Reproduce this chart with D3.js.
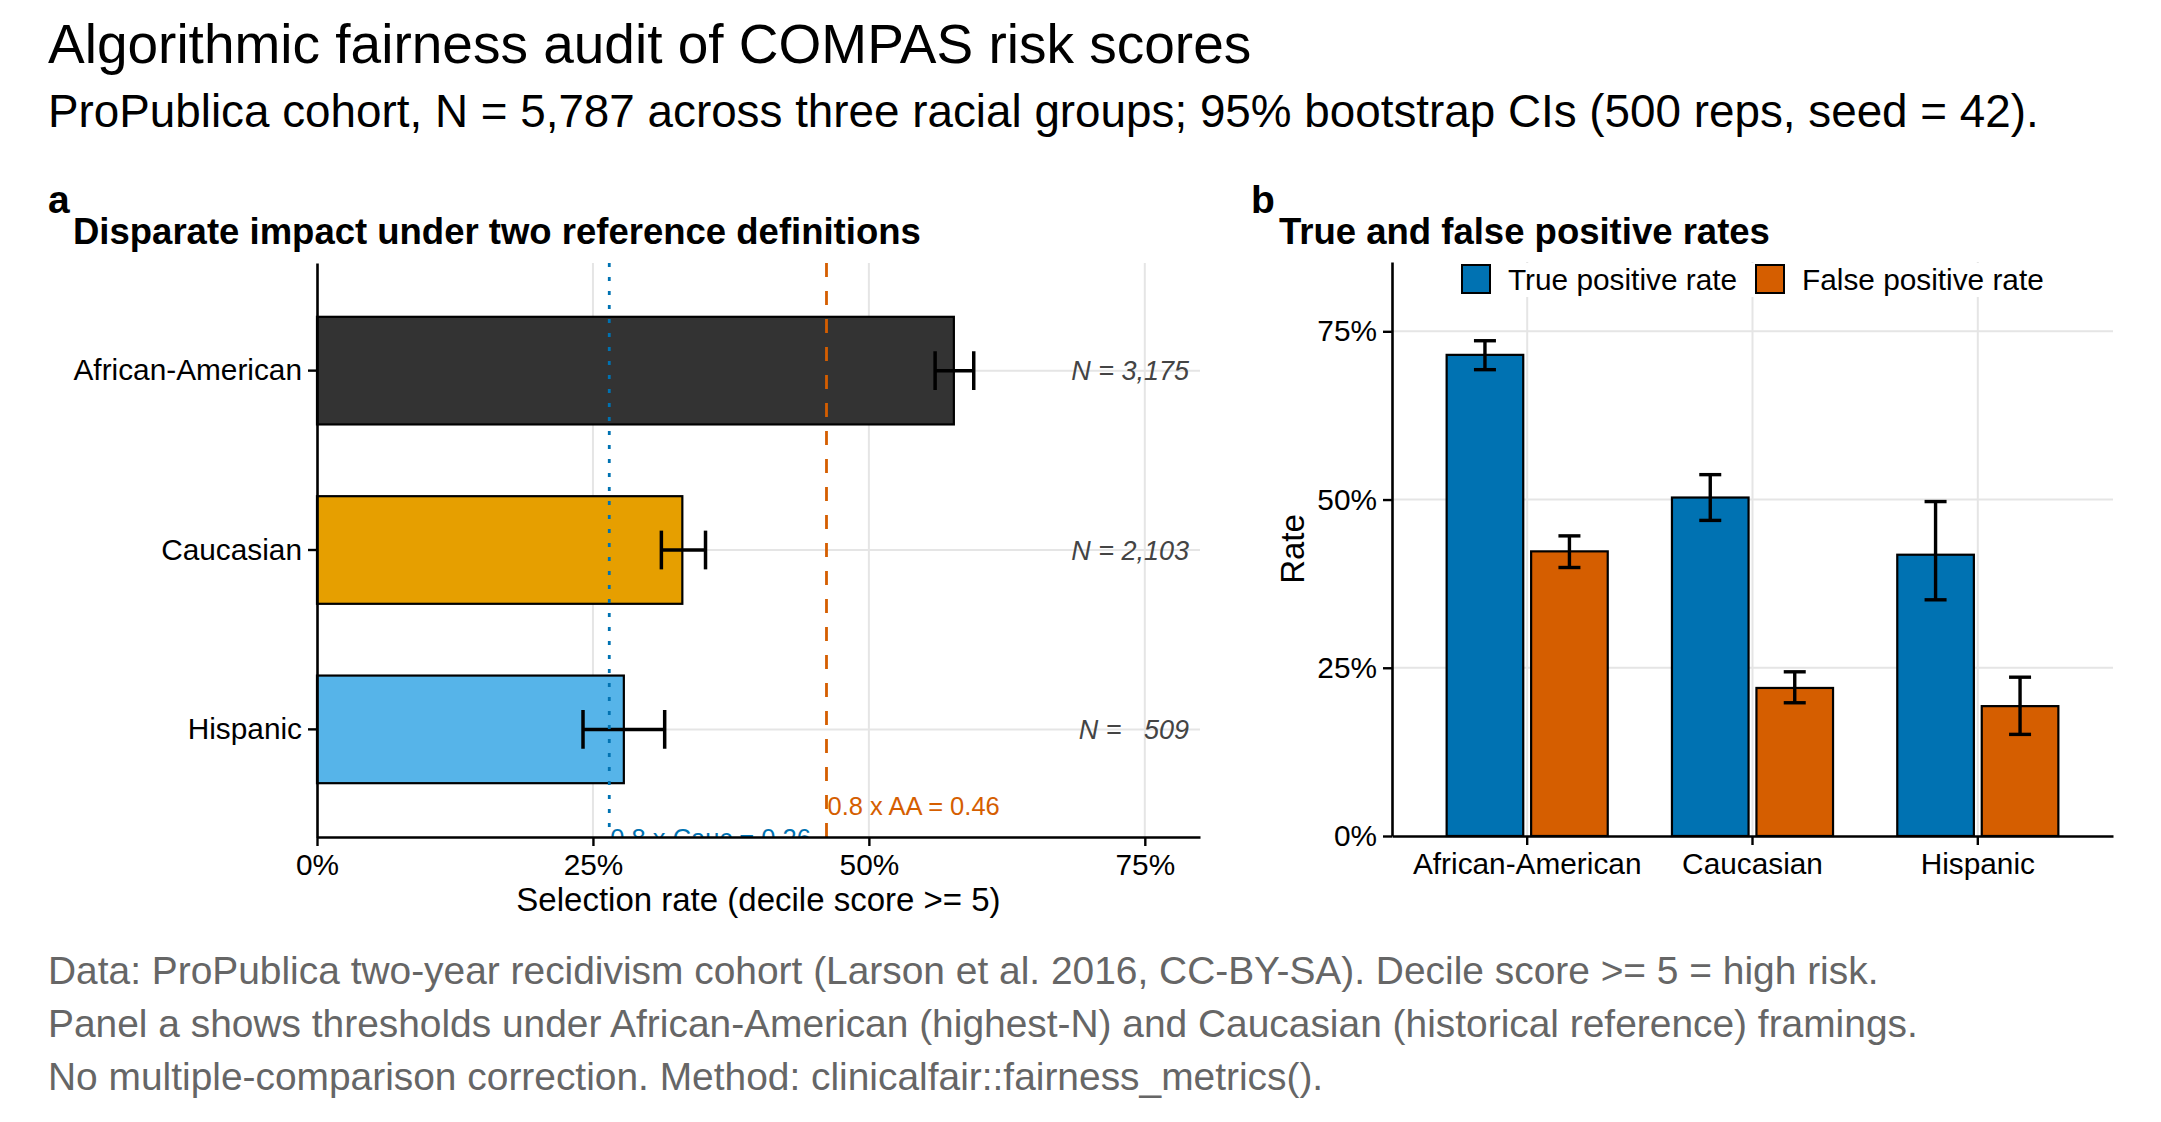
<!DOCTYPE html>
<html>
<head>
<meta charset="utf-8">
<script src="https://cdn.jsdelivr.net/npm/d3@7"></script>
<style>
  body { margin: 0; background: #fff; }
  text { font-family: "Liberation Sans", Arial, sans-serif; }
</style>
</head>
<body>
<script>
// data
var groups = ["African-American", "Caucasian", "Hispanic"];
var groupN = [3175, 2103, 509];
var selRate = [0.577, 0.331, 0.278];
var selLow = [0.560, 0.312, 0.241];
var selHigh = [0.595, 0.352, 0.315];
var groupColors = ["#333333", "#E69F00", "#56B4E9"];

var metrics = ["True positive rate", "False positive rate"];
var metricColors = ["#0072B2", "#D55E00"];
var tpr = [0.715, 0.503, 0.418];
var tprLow = [0.693, 0.469, 0.351];
var tprHigh = [0.736, 0.537, 0.497];
var fpr = [0.423, 0.220, 0.193];
var fprLow = [0.399, 0.198, 0.151];
var fprHigh = [0.446, 0.244, 0.236];

var rateTicks = [0, 0.25, 0.5, 0.75];
var captionLines = [
    "Data: ProPublica two-year recidivism cohort (Larson et al. 2016, CC-BY-SA). Decile score >= 5 = high risk.",
    "Panel a shows thresholds under African-American (highest-N) and Caucasian (historical reference) framings.",
    "No multiple-comparison correction. Method: clinicalfair::fairness_metrics()."
];

var width = 2161, height = 1122;
var gridColor = "#e5e5e5";
var pct = d3.format(".0%");

var svg = d3.select("body").append("svg")
    .attr("width", width)
    .attr("height", height);

// titles
svg.append("text").attr("x", 48).attr("y", 63)
    .attr("font-size", 55).text("Algorithmic fairness audit of COMPAS risk scores");
svg.append("text").attr("x", 48).attr("y", 127)
    .attr("font-size", 45.8)
    .text("ProPublica cohort, N = 5,787 across three racial groups; 95% bootstrap CIs (500 reps, seed = 42).");

// ---------- panel a ----------
var pa = { left: 317, right: 1200, top: 263, bottom: 837 };

var xA = d3.scaleLinear().domain([0, 0.8]).range([pa.left, pa.right]);
var yA = d3.scaleBand().domain(groups).range([pa.top, pa.bottom])
    .paddingInner(0.4).paddingOuter(0.3);

var gA = svg.append("g");

svg.append("text").attr("x", 48).attr("y", 213)
    .attr("font-size", 39).attr("font-weight", "bold").text("a");
svg.append("text").attr("x", 73).attr("y", 244)
    .attr("font-size", 36.5).attr("font-weight", "bold")
    .text("Disparate impact under two reference definitions");

// grid
gA.selectAll(".vgrid").data(rateTicks.slice(1)).enter().append("line")
    .attr("x1", d => xA(d)).attr("x2", d => xA(d))
    .attr("y1", pa.top).attr("y2", pa.bottom)
    .attr("stroke", gridColor).attr("stroke-width", 2);
gA.selectAll(".hgrid").data(groups).enter().append("line")
    .attr("x1", pa.left).attr("x2", pa.right)
    .attr("y1", d => yA(d) + yA.bandwidth() / 2).attr("y2", d => yA(d) + yA.bandwidth() / 2)
    .attr("stroke", gridColor).attr("stroke-width", 2);

// bars
gA.selectAll(".bar").data(groups).enter().append("rect")
    .attr("x", xA(0))
    .attr("y", d => yA(d))
    .attr("width", (d, i) => xA(selRate[i]) - xA(0))
    .attr("height", yA.bandwidth())
    .attr("fill", (d, i) => groupColors[i])
    .attr("stroke", "black").attr("stroke-width", 2.2);

// error bars
var capA = yA.bandwidth() * 0.36;
groups.forEach((g, i) => {
    var cy = yA(g) + yA.bandwidth() / 2;
    var eb = gA.append("g").attr("stroke", "black").attr("stroke-width", 3.5);
    eb.append("line").attr("x1", xA(selLow[i])).attr("x2", xA(selHigh[i])).attr("y1", cy).attr("y2", cy);
    eb.append("line").attr("x1", xA(selLow[i])).attr("x2", xA(selLow[i])).attr("y1", cy - capA / 2).attr("y2", cy + capA / 2);
    eb.append("line").attr("x1", xA(selHigh[i])).attr("x2", xA(selHigh[i])).attr("y1", cy - capA / 2).attr("y2", cy + capA / 2);

    gA.append("text")
        .attr("x", pa.right - 11).attr("y", cy)
        .attr("dy", "0.36em")
        .attr("text-anchor", "end")
        .attr("font-size", 27).attr("font-style", "italic")
        .attr("fill", "#444444")
        .style("white-space", "pre")
        .text("N = " + d3.format(",")(groupN[i]).padStart(5, " "));
});

// reference thresholds
svg.append("clipPath").attr("id", "clipA").append("rect")
    .attr("x", pa.left).attr("y", pa.top)
    .attr("width", pa.right - pa.left).attr("height", pa.bottom - pa.top);

var thrAA = 0.8 * selRate[0];
var thrCauc = 0.8 * selRate[1];
var thr = gA.append("g").attr("clip-path", "url(#clipA)");
thr.append("line")
    .attr("x1", xA(thrCauc)).attr("x2", xA(thrCauc))
    .attr("y1", pa.top).attr("y2", pa.bottom)
    .attr("stroke", "#0072B2").attr("stroke-width", 2.8)
    .attr("stroke-dasharray", "4,10");
thr.append("line")
    .attr("x1", xA(thrAA)).attr("x2", xA(thrAA))
    .attr("y1", pa.top).attr("y2", pa.bottom)
    .attr("stroke", "#D55E00").attr("stroke-width", 2.8)
    .attr("stroke-dasharray", "14,14");
var lowBand = yA(groups[2]) + yA.bandwidth();
thr.append("text")
    .attr("x", xA(thrAA) + 1).attr("y", lowBand + 32)
    .attr("font-size", 25.5).attr("fill", "#D55E00")
    .text("0.8 x AA = " + thrAA.toFixed(2));
thr.append("text")
    .attr("x", xA(thrCauc) + 1).attr("y", lowBand + 64)
    .attr("font-size", 25.5).attr("fill", "#0072B2")
    .text("0.8 x Cauc = " + thrCauc.toFixed(2));

// axes
var xAxisA = gA.append("g")
    .attr("transform", `translate(0, ${pa.bottom})`)
    .call(d3.axisBottom(xA).tickValues(rateTicks).tickFormat(pct).tickSize(9).tickPadding(8).tickSizeOuter(0));
var yAxisA = gA.append("g")
    .attr("transform", `translate(${pa.left}, 0)`)
    .call(d3.axisLeft(yA).tickSize(9).tickPadding(6).tickSizeOuter(0));

gA.append("text")
    .attr("x", (pa.left + pa.right) / 2).attr("y", 911)
    .attr("text-anchor", "middle").attr("font-size", 33)
    .text("Selection rate (decile score >= 5)");

// ---------- panel b ----------
var pb = { left: 1392, right: 2113, top: 262, bottom: 836 };

var xB = d3.scaleBand().domain(groups).range([pb.left, pb.right])
    .paddingInner(0.25).paddingOuter(0.225);
var xSub = d3.scaleBand().domain(metrics).range([0, xB.bandwidth()])
    .paddingInner(0.0933).paddingOuter(0.0467);
var yB = d3.scaleLinear().domain([0, 0.853]).range([pb.bottom, pb.top]);

var gB = svg.append("g");

svg.append("text").attr("x", 1251).attr("y", 213)
    .attr("font-size", 39).attr("font-weight", "bold").text("b");
svg.append("text").attr("x", 1279).attr("y", 244)
    .attr("font-size", 36.5).attr("font-weight", "bold")
    .text("True and false positive rates");

gB.selectAll(".hgrid").data(rateTicks.slice(1)).enter().append("line")
    .attr("x1", pb.left).attr("x2", pb.right)
    .attr("y1", d => yB(d)).attr("y2", d => yB(d))
    .attr("stroke", gridColor).attr("stroke-width", 2);
gB.selectAll(".vgrid").data(groups).enter().append("line")
    .attr("x1", d => xB(d) + xB.bandwidth() / 2).attr("x2", d => xB(d) + xB.bandwidth() / 2)
    .attr("y1", pb.top).attr("y2", pb.bottom)
    .attr("stroke", gridColor).attr("stroke-width", 2);

var rows = [];
groups.forEach((g, i) => {
    rows.push({ group: g, metric: metrics[0], v: tpr[i], lo: tprLow[i], hi: tprHigh[i], c: metricColors[0] });
    rows.push({ group: g, metric: metrics[1], v: fpr[i], lo: fprLow[i], hi: fprHigh[i], c: metricColors[1] });
});

gB.selectAll(".bar").data(rows).enter().append("rect")
    .attr("x", d => xB(d.group) + xSub(d.metric))
    .attr("y", d => yB(d.v))
    .attr("width", xSub.bandwidth())
    .attr("height", d => yB(0) - yB(d.v))
    .attr("fill", d => d.c)
    .attr("stroke", "black").attr("stroke-width", 2.2);

var capB = 22;
rows.forEach(d => {
    var cx = xB(d.group) + xSub(d.metric) + xSub.bandwidth() / 2;
    var eb = gB.append("g").attr("stroke", "black").attr("stroke-width", 3.4);
    eb.append("line").attr("x1", cx).attr("x2", cx).attr("y1", yB(d.lo)).attr("y2", yB(d.hi));
    eb.append("line").attr("x1", cx - capB / 2).attr("x2", cx + capB / 2).attr("y1", yB(d.lo)).attr("y2", yB(d.lo));
    eb.append("line").attr("x1", cx - capB / 2).attr("x2", cx + capB / 2).attr("y1", yB(d.hi)).attr("y2", yB(d.hi));
});

// legend sits inside the top of the panel
var legend = gB.append("g");
legend.append("rect")
    .attr("x", 1452).attr("y", pb.top + 1).attr("width", 600).attr("height", 34)
    .attr("fill", "white");
var legendX = [1462, 1756];
metrics.forEach((m, i) => {
    legend.append("rect")
        .attr("x", legendX[i]).attr("y", 265).attr("width", 28).attr("height", 28)
        .attr("fill", metricColors[i]).attr("stroke", "black").attr("stroke-width", 2);
    legend.append("text")
        .attr("x", legendX[i] + 46).attr("y", 279).attr("dy", "0.36em")
        .attr("font-size", 29.8).text(m);
});

var xAxisB = gB.append("g")
    .attr("transform", `translate(0, ${pb.bottom})`)
    .call(d3.axisBottom(xB).tickSize(9).tickPadding(8).tickSizeOuter(0));
var yAxisB = gB.append("g")
    .attr("transform", `translate(${pb.left}, 0)`)
    .call(d3.axisLeft(yB).tickValues(rateTicks).tickFormat(pct).tickSize(9).tickPadding(6).tickSizeOuter(0));

gB.append("text")
    .attr("transform", `translate(1304, ${(pb.top + pb.bottom) / 2}) rotate(-90)`)
    .attr("text-anchor", "middle").attr("font-size", 33)
    .text("Rate");

// axis styling shared by both panels
[xAxisA, yAxisA, xAxisB, yAxisB].forEach(ax => {
    ax.select(".domain").attr("stroke", "black").attr("stroke-width", 2.6);
    ax.selectAll(".tick line").attr("stroke", "black").attr("stroke-width", 2.4);
    ax.selectAll(".tick text")
        .attr("fill", "black")
        .attr("font-size", 29.8)
        .attr("font-family", '"Liberation Sans", Arial, sans-serif');
});

// caption
svg.selectAll(".caption").data(captionLines).enter().append("text")
    .attr("x", 48).attr("y", (d, i) => 984 + i * 53)
    .attr("font-size", 38.9).attr("fill", "#666666")
    .text(d => d);
</script>
</body>
</html>
